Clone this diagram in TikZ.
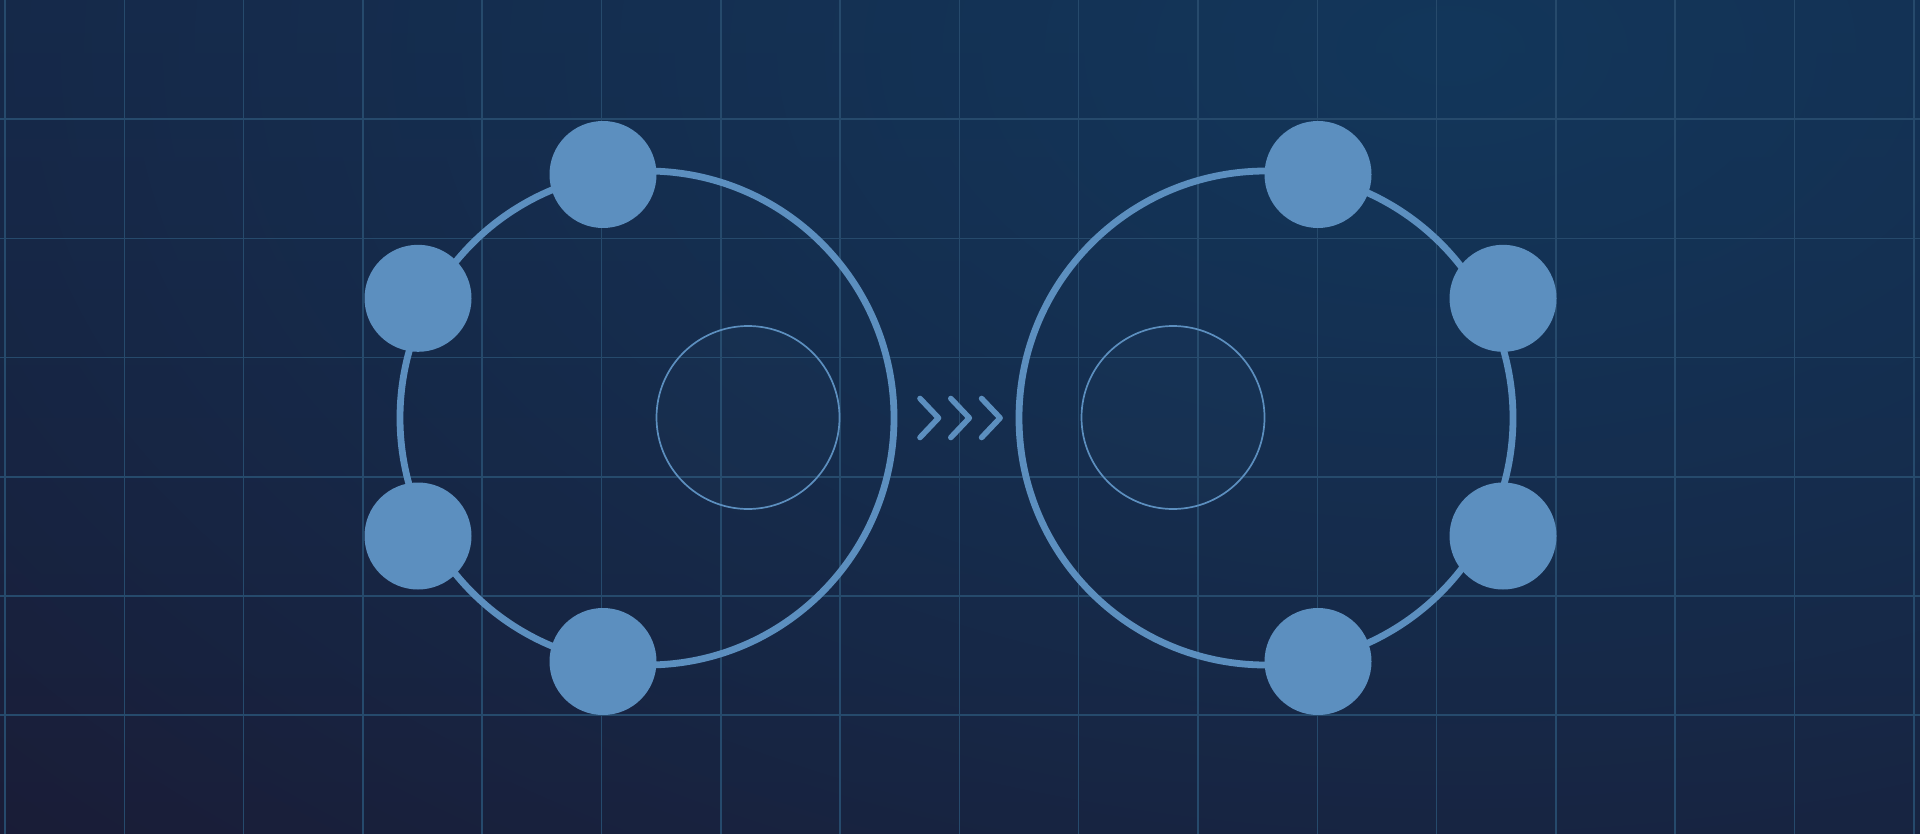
\documentclass[tikz,border=0pt]{standalone}
\usetikzlibrary{fadings}

\definecolor{bgtop}{HTML}{172443}
\definecolor{bgbottom}{HTML}{1A1C36}
\definecolor{glow}{HTML}{123A5F}
\definecolor{gridline}{HTML}{264A6C}
\definecolor{orbitblue}{HTML}{5C8FBF}

\tikzfading[name=glowfade, inner color=transparent!0, outer color=transparent!100]

\tikzset{
  orbit/.style={draw=orbitblue, line width=3.4pt},
  atom/.style={circle, fill=orbitblue, minimum size=53.5pt, inner sep=0pt},
  core/.style={circle, draw=orbitblue, line width=0.85pt, fill=orbitblue, fill opacity=0.03, minimum size=91.5pt, inner sep=0pt},
  chevron/.style={draw=orbitblue, line width=2.8pt, line cap=round, line join=round},
  gridrule/.style={draw=gridline, line width=0.75pt}
}

\begin{document}
\begin{tikzpicture}[x=0.5pt,y=-0.5pt]

  \useasboundingbox (0,0) rectangle (1920,834);
  \shade[top color=bgtop, bottom color=bgbottom] (0,0) rectangle (1920,834);
  \begin{scope}
    \clip (0,0) rectangle (1920,834);
    \fill[glow, path fading=glowfade, opacity=0.85] (1450,50) ellipse (2000 and 1200);
  \end{scope}

  \foreach \x in {0,...,16}
    \draw[gridrule] (5+119.3*\x,0) -- (5+119.3*\x,834);
  \foreach \y in {1,...,6}
    \draw[gridrule] (0,119.2*\y) -- (1920,119.2*\y);

  \coordinate (lorb) at (647,418);
  \coordinate (rorb) at (1266,418);
  \draw[orbit] (lorb) circle (247);
  \draw[orbit] (rorb) circle (247);

  \node[core] (lcore) at (748,417.5) {};
  \node[core] (rcore) at (1173,417.5) {};

  \foreach \name/\x/\y in {lt/603/174.5, lu/418/298.3, ld/418/536, lb/603/661.5,
                           rt/1318/174.5, ru/1503/298.3, rd/1503/536, rb/1318/661.5}
    \node[atom] (\name) at (\x,\y) {};

  \foreach \i in {0,1,2}
    \draw[chevron] (920+30.8*\i,398.5) -- (938.5+30.8*\i,418) -- (920+30.8*\i,437.5);

\end{tikzpicture}
\end{document}
